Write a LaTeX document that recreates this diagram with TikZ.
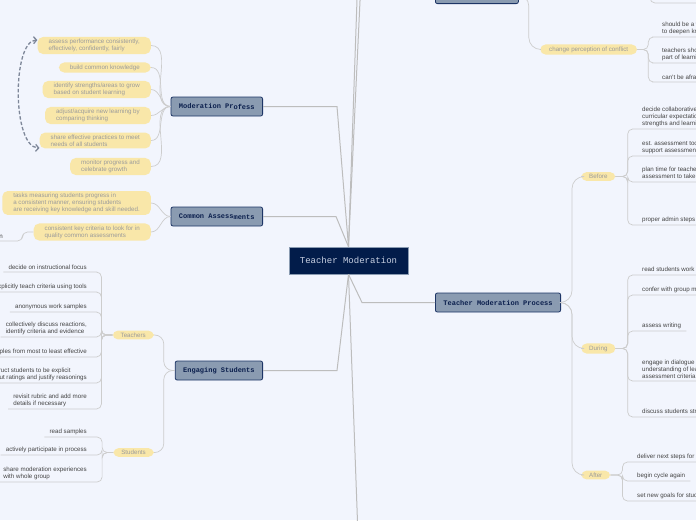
\documentclass[tikz,border=0pt]{standalone}
\usepackage{fontspec}
\setmainfont{Liberation Sans}
\newfontfamily\monofont{Liberation Mono}
\usetikzlibrary{arrows.meta}
\definecolor{paper}{HTML}{F2F5FD}
\definecolor{rootfill}{HTML}{021C4A}
\definecolor{roottext}{HTML}{C8D0E2}
\definecolor{topicfill}{HTML}{8A9BB1}
\definecolor{topicline}{HTML}{1D3566}
\definecolor{topictext}{HTML}{0B1F4D}
\definecolor{pillfill}{HTML}{F9E7A9}
\definecolor{pilltext}{HTML}{9B9B9B}
\definecolor{leafcol}{HTML}{444444}
\definecolor{twigcol}{HTML}{CDCDCD}
\definecolor{rootlinecol}{HTML}{BDBDBD}
\definecolor{cyclecol}{HTML}{7E8799}
\newcommand\smalltext{\fontsize{6.2}{6.9}\selectfont}
\begin{document}
\begin{tikzpicture}[x=1pt,y=-1pt,
  rootbox/.style={draw=topicfill, line width=0.6pt, fill=rootfill, text=roottext, font=\monofont\fontsize{9}{10}\selectfont, minimum width=119pt, minimum height=27pt, inner sep=0pt},
  topicbox/.style={draw=topicline, line width=0.8pt, fill=topicfill, text=topictext, rounded corners=2pt, font=\monofont\bfseries\fontsize{7}{8}\selectfont, minimum height=19pt, inner xsep=8pt, inner ysep=0pt},
  pillbox/.style={fill=pillfill, text=pilltext, rounded corners=5.5pt, align=left, inner xsep=11pt, inner ysep=2.2pt, font=\smalltext},
  smallpill/.style={pillbox, inner xsep=8pt},
  leafnode/.style={text=leafcol, align=left, inner xsep=5pt, inner ysep=2.2pt, font=\smalltext},
  rootline/.style={draw=rootlinecol, line width=1pt},
  twig/.style={draw=twigcol, line width=0.7pt, rounded corners=5pt},
  cyclearrow/.style={draw=cyclecol, line width=1.3pt, dash pattern=on 3.5pt off 2pt, {Straight Barb[length=3pt,width=7pt]}-{Straight Barb[length=3pt,width=7pt]}}
]
\fill[paper] (0,0) rectangle (696,520);
\useasboundingbox (0,0) rectangle (696,520);
\clip (0,0) rectangle (696,520);

\node[rootbox] (root) at (348.5,260.5) {Teacher Moderation};
\node[topicbox, anchor=east] (modproc) at (263,106.5) {Moderation Pr\raisebox{-1.5pt}{ofess}};
\node[topicbox, anchor=east] (common) at (263,216.5) {Common Assess\raisebox{-1.5pt}{ments}};
\node[topicbox, anchor=east] (engage) at (263,370.5) {Engaging Students};
\node[topicbox, anchor=west] (process) at (435,302.5) {Teacher Moderation Process};
\node[topicbox, anchor=south west, minimum width=83pt] (upper) at (435,4) {};

\coordinate (far top) at (357.4,-12);
\coordinate (far bottom) at (357.8,530);
\draw[rootline] (root.north) -- (360.3,-5.5) -- (upper.west);
\draw[rootline] (root.north) -- (far top);
\draw[rootline] (root.south) -- (far bottom);
\draw[rootline] (root.north) -- (337,106.5) -- (modproc.east);
\draw[rootline] (root.north) -- (336,216.5) -- (common.east);
\draw[rootline] (root.south) -- (337,370.5) -- (engage.east);
\draw[rootline] (root.south) -- (362,302.5) -- (process.west);

% moderation process
\node[pillbox, anchor=east] (mp1) at (151,45.5) {assess performance consistently,\\effectively, confidently, fairly};
\node[pillbox, anchor=east] (mp2) at (151,67.5) {build common knowledge};
\node[pillbox, anchor=east] (mp3) at (151,89.5) {identify strengths/areas to grow\\based on student learning};
\node[pillbox, anchor=east] (mp4) at (151,115.5) {adjust/acquire new learning by\\comparing thinking};
\node[pillbox, anchor=east] (mp5) at (151,140.5) {share effective practices to meet\\needs of all students};
\node[pillbox, anchor=east] (mp6) at (151,166.5) {monitor progress and\\celebrate growth};
\foreach \n in {1,...,6}
  \draw[twig] (mp\n.east) to[out=0,in=180] (modproc.west);
\draw[cyclearrow] ([yshift=5.5pt]mp1.west) .. controls (12,41) and (12,147) .. ([yshift=-7.5pt]mp5.west);

% common assessments
\node[pillbox, anchor=east] (ca1) at (151,203) {tasks measuring students progress in\\a consistent manner, ensuring students\\are receiving key knowledge and skill needed.};
\node[pillbox, anchor=east] (ca2) at (151,232) {consistent key criteria to look for in\\quality common assessments};
\node[leafnode, anchor=south east] (ca2a) at (8,241) {n};
\foreach \n in {1,2}
  \draw[twig] (ca\n.east) to[out=0,in=180] (common.west);
\draw[twig] (ca2.west) -- ++(-11,0) |- (ca2a.south east) -- (ca2a.south west);

% engaging students
\node[smallpill, anchor=east] (teach) at (154,335) {Teachers};
\node[smallpill, anchor=east] (stud) at (154,452.5) {Students};
\draw[twig, rounded corners=9pt] (engage.west) -- ++(-11,0) |- (teach.east);
\draw[twig, rounded corners=9pt] (engage.west) -- ++(-11,0) |- (stud.east);
\node[leafnode, anchor=south east] (t1) at (92,272) {decide on instructional focus};
\node[leafnode, anchor=south east] (t2) at (92,292) {explicitly teach criteria using tools};
\node[leafnode, anchor=south east] (t3) at (92,312) {anonymous work samples};
\node[leafnode, anchor=south east] (t4) at (92,337) {collectively discuss reactions,\\identify criteria and evidence};
\node[leafnode, anchor=south east] (t5) at (92,357) {rank samples from most to least effective};
\node[leafnode, anchor=south east] (t6) at (92,383) {instruct students to be explicit\\about ratings and justify reasonings};
\node[leafnode, anchor=south east] (t7) at (92,409) {revisit rubric and add more\\details if necessary};
\foreach \n in {1,...,7}
  \draw[twig] (teach.west) -- ++(-11,0) |- (t\n.south east) -- (t\n.south west);
\node[leafnode, anchor=south east] (s1) at (92,437) {read samples};
\node[leafnode, anchor=south east] (s2) at (92,455) {actively participate in process};
\node[leafnode, anchor=south east] (s3) at (92,482) {share moderation experiences\\with whole group};
\foreach \n in {1,2,3}
  \draw[twig] (stud.west) -- ++(-11,0) |- (s\n.south east) -- (s\n.south west);

% teacher moderation process
\node[smallpill, anchor=west] (before) at (581,176.5) {Before};
\node[smallpill, anchor=west] (during) at (581,348.5) {During};
\node[smallpill, anchor=west] (after) at (581,475) {After};
\foreach \p in {before,during,after}
  \draw[twig, rounded corners=12pt] (process.east) -- ++(11,0) |- (\p.west);
\node[leafnode, anchor=south west] (b1) at (637,129) {decide collaboratively on\\curricular expectations,\\strengths and learning needs};
\node[leafnode, anchor=south west] (b2) at (637,156) {est. assessment tools to\\support assessment};
\node[leafnode, anchor=south west] (b3) at (637,182) {plan time for teachers\\assessment to take place};
\node[leafnode, anchor=south west] (b4) at (637,225) {proper admin steps taken};
\foreach \n in {1,...,4}
  \draw[twig] (before.east) -- ++(12,0) |- (b\n.south west) -- (b\n.south east);
\node[leafnode, anchor=south west] (d1) at (637,275) {read students work samples};
\node[leafnode, anchor=south west] (d2) at (637,295) {confer with group members};
\node[leafnode, anchor=south west] (d3) at (637,331) {assess writing};
\node[leafnode, anchor=south west] (d4) at (637,381) {engage in dialogue to build\\understanding of learning and\\assessment criteria};
\node[leafnode, anchor=south west] (d5) at (637,417) {discuss students strengths};
\foreach \n in {1,...,5}
  \draw[twig] (during.east) -- ++(12,0) |- (d\n.south west) -- (d\n.south east);
\node[leafnode, anchor=south west] (a1) at (632,462) {deliver next steps for students};
\node[leafnode, anchor=south west] (a2) at (632,481) {begin cycle again};
\node[leafnode, anchor=south west] (a3) at (632,501) {set new goals for students};
\foreach \n in {1,2,3}
  \draw[twig] (after.east) -- ++(12,0) |- (a\n.south west) -- (a\n.south east);

% conflict
\node[pillbox, anchor=west, inner xsep=9pt] (conflict) at (540,49.5) {change perception of conflict};
\draw[twig, rounded corners=12pt] (upper.east) -- ++(10,0) |- (conflict.west);
\node[leafnode, anchor=south west] (c1) at (657,37) {should be a way\\to deepen knowledge};
\node[leafnode, anchor=south west] (c2) at (657,63) {teachers should see it as\\part of learning};
\node[leafnode, anchor=south west] (c3) at (657,82) {can't be afraid of it};
\foreach \n in {1,2,3}
  \draw[twig] (conflict.east) -- ++(11,0) |- (c\n.south west) -- (c\n.south east);
\coordinate (hidden trunk) at (650,-30);
\coordinate (hidden leaf) at (700,3);
\draw[twig] (hidden trunk) |- (hidden leaf);
\end{tikzpicture}
\end{document}
